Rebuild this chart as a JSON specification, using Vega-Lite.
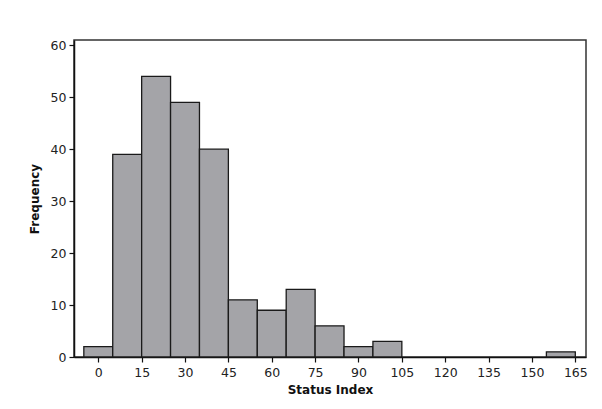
{
  "$schema": "https://vega.github.io/schema/vega-lite/v6.json",
  "autosize": {"type": "none"},
  "width": 512,
  "height": 317,
  "padding": {"left": 74, "top": 40, "right": 16, "bottom": 52},
  "background": "white",
  "config": {
    "view": {"stroke": "#333333", "strokeWidth": 1.5},
    "axis": {
      "labelFont": "DejaVu Sans",
      "labelFontSize": 12.5,
      "labelColor": "#222222",
      "titleFont": "DejaVu Sans",
      "titleFontSize": 12,
      "titleFontWeight": "bold",
      "titleColor": "#111111",
      "domainColor": "#111111",
      "domainWidth": 1.5,
      "tickColor": "#111111",
      "tickWidth": 1.2,
      "tickSize": 5,
      "grid": false
    }
  },
  "data": {
    "values": [
      {"start": -5, "end": 5, "count": 2},
      {"start": 5, "end": 15, "count": 39},
      {"start": 15, "end": 25, "count": 54},
      {"start": 25, "end": 35, "count": 49},
      {"start": 35, "end": 45, "count": 40},
      {"start": 45, "end": 55, "count": 11},
      {"start": 55, "end": 65, "count": 9},
      {"start": 65, "end": 75, "count": 13},
      {"start": 75, "end": 85, "count": 6},
      {"start": 85, "end": 95, "count": 2},
      {"start": 95, "end": 105, "count": 3},
      {"start": 155, "end": 165, "count": 1}
    ]
  },
  "mark": {"type": "rect", "fill": "#a4a4a8", "stroke": "#1a1a1a", "strokeWidth": 1.3},
  "encoding": {
    "x": {
      "field": "start",
      "type": "quantitative",
      "scale": {"domain": [-8.4, 168.7], "nice": false, "zero": false},
      "axis": {"values": [0, 15, 30, 45, 60, 75, 90, 105, 120, 135, 150, 165], "title": "Status Index", "labelPadding": 4, "titlePadding": 6}
    },
    "x2": {"field": "end"},
    "y": {
      "field": "count",
      "type": "quantitative",
      "scale": {"domain": [0, 61], "nice": false},
      "axis": {"values": [0, 10, 20, 30, 40, 50, 60], "title": "Frequency", "labelPadding": 3, "titlePadding": 9}
    },
    "y2": {"datum": 0}
  }
}
